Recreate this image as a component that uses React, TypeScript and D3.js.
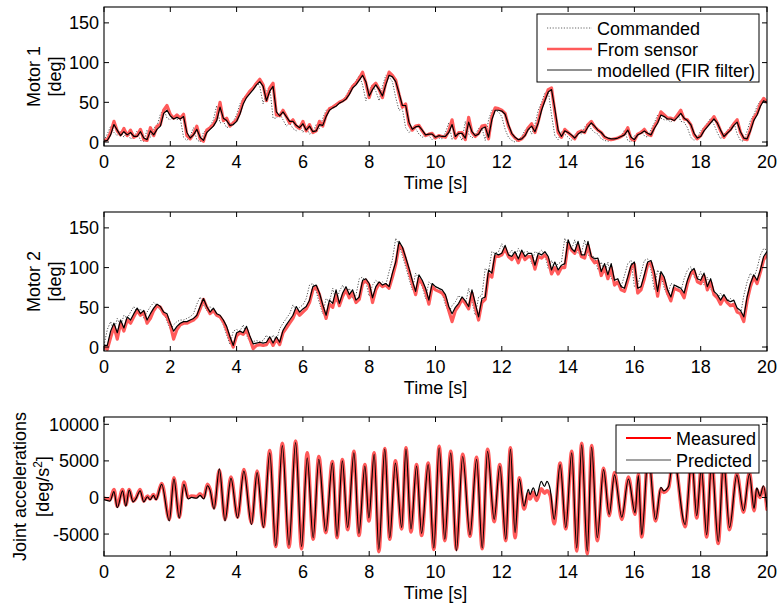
import React from "react";
import * as d3 from "d3";

// ---------- data ----------
const timeGrid: number[] = d3.range(0, 201).map((i) => i / 10);
const xTicks = [0, 2, 4, 6, 8, 10, 12, 14, 16, 18, 20];
const motorTicks = [0, 50, 100, 150];
const accTicks = [-5000, 0, 5000, 10000];

const motor1Commanded = [
  2, 10, 20, 12, 8, 14, 6, 13, 4, 6,
  14, 2, 1, 15, 6, 18, 20, 35, 42, 30,
  28, 32, 28, 30, 6, 2, 8, 18, 3, 0,
  12, 16, 20, 28, 46, 24, 26, 18, 20, 26,
  34, 48, 55, 60, 64, 70, 76, 70, 48, 64,
  70, 30, 30, 36, 28, 20, 24, 17, 14, 22,
  12, 19, 10, 12, 22, 17, 30, 40, 42, 45,
  48, 50, 53, 58, 66, 72, 77, 84, 72, 52,
  66, 72, 64, 52, 70, 84, 82, 76, 56, 40,
  42, 18, 12, 16, 17, 10, 6, 8, 8, 3,
  6, 5, 4, 12, 24, 3, 10, 10, 2, 26,
  10, 5, 9, 17, 18, 2, 28, 40, 40, 38,
  32, 16, 6, 2, 0, 2, 7, 15, 20, 10,
  22, 40, 50, 62, 65, 34, 8, 3, 13, 10,
  6, 2, 10, 12, 10, 19, 24, 16, 12, 10,
  4, 2, 1, 2, 3, 5, 8, 15, 2, 0,
  8, 10, 14, 8, 6, 16, 24, 34, 30, 28,
  28, 25, 31, 36, 26, 25, 18, 6, 2, 6,
  14, 19, 24, 30, 22, 12, 4, 10, 14, 20,
  25, 10, 2, 1, 14, 27, 34, 45, 52, 50,
  48,
];
const motor1Sensor = [
  2, 3, 12, 26, 14, 9, 17, 8, 15, 6,
  8, 16, 3, 2, 18, 8, 20, 22, 40, 46,
  35, 30, 34, 30, 35, 8, 4, 10, 20, 4,
  1, 15, 18, 22, 30, 50, 27, 30, 20, 24,
  28, 38, 52, 58, 64, 68, 74, 79, 72, 52,
  68, 74, 34, 33, 40, 32, 24, 28, 20, 17,
  26, 14, 22, 12, 14, 26, 20, 34, 42, 44,
  47, 50, 52, 55, 62, 70, 74, 80, 88, 74,
  56, 70, 74, 66, 56, 75, 88, 84, 78, 60,
  44, 48, 22, 15, 20, 21, 14, 8, 10, 11,
  5, 8, 7, 6, 14, 28, 5, 12, 12, 3,
  31, 12, 7, 11, 20, 21, 4, 32, 43, 42,
  40, 36, 20, 10, 5, 2, 4, 9, 18, 23,
  12, 26, 44, 54, 66, 68, 38, 12, 6, 16,
  12, 8, 4, 12, 14, 12, 22, 26, 19, 15,
  12, 6, 4, 3, 4, 5, 7, 10, 18, 4,
  2, 10, 12, 16, 10, 8, 19, 26, 38, 34,
  30, 30, 28, 34, 40, 29, 28, 22, 9, 4,
  8, 16, 21, 26, 32, 24, 14, 6, 12, 16,
  23, 28, 12, 4, 3, 16, 30, 36, 48, 55,
  50,
];
const motor1Model = [
  1, 2, 9, 22, 15, 8, 13, 9, 12, 7,
  7, 13, 5, 3, 14, 9, 16, 20, 36, 40,
  33, 29, 31, 29, 32, 12, 5, 9, 16, 6,
  2, 12, 16, 20, 27, 44, 30, 27, 21, 22,
  26, 35, 48, 56, 61, 66, 72, 76, 70, 52,
  64, 70, 38, 33, 38, 32, 26, 26, 21, 18,
  23, 15, 20, 13, 14, 22, 21, 32, 40, 43,
  45, 49, 51, 54, 60, 68, 72, 78, 84, 76,
  58, 66, 72, 66, 58, 72, 84, 82, 76, 62,
  46, 46, 25, 16, 19, 20, 15, 9, 10, 10,
  6, 8, 7, 7, 12, 22, 7, 11, 11, 5,
  25, 13, 8, 10, 17, 19, 6, 28, 40, 40,
  39, 35, 22, 11, 6, 3, 4, 8, 16, 20,
  13, 24, 40, 52, 63, 66, 42, 15, 7, 14,
  12, 9, 5, 10, 13, 12, 19, 24, 20, 15,
  12, 7, 5, 4, 4, 5, 7, 9, 15, 6,
  3, 9, 11, 14, 11, 9, 17, 24, 34, 32,
  29, 29, 27, 31, 36, 30, 27, 22, 11, 5,
  7, 14, 19, 24, 29, 24, 15, 7, 11, 15,
  21, 25, 13, 5, 4, 14, 27, 34, 45, 52,
  50,
];

const motor2Commanded = [
  2, 22, 32, 20, 36, 26, 40, 36, 44, 51,
  44, 48, 36, 44, 51, 56, 52, 46, 44, 32,
  22, 28, 32, 34, 34, 36, 38, 42, 54, 63,
  53, 46, 51, 44, 42, 36, 28, 15, 3, 20,
  22, 20, 28, 15, 6, 7, 8, 7, 8, 15,
  7, 15, 8, 23, 30, 36, 42, 53, 46, 50,
  53, 61, 78, 80, 70, 55, 42, 61, 57, 74,
  57, 70, 78, 68, 74, 61, 65, 86, 88, 82,
  64, 78, 84, 80, 82, 78, 95, 110, 137, 128,
  115, 101, 86, 72, 93, 86, 76, 61, 82, 78,
  76, 74, 68, 53, 44, 52, 57, 65, 60, 53,
  74, 57, 40, 63, 65, 99, 95, 120, 118, 120,
  130, 118, 116, 122, 113, 124, 116, 120, 120, 105,
  120, 118, 122, 116, 99, 109, 99, 105, 107, 137,
  126, 122, 135, 118, 118, 135, 116, 113, 114, 97,
  107, 93, 107, 86, 88, 78, 76, 90, 105, 109,
  76, 78, 93, 109, 111, 97, 72, 97, 90, 74,
  65, 80, 78, 76, 70, 86, 97, 101, 88, 86,
  95, 78, 88, 72, 68, 61, 68, 61, 59, 61,
  51, 48, 40, 65, 82, 93, 86, 99, 116, 124,
  122,
];
const motor2Sensor = [
  0, -3, 12, 26, 10, 30, 20, 34, 30, 38,
  46, 40, 44, 30, 36, 46, 52, 50, 42, 38,
  28, 10, 22, 28, 30, 30, 32, 34, 38, 48,
  60, 50, 42, 46, 40, 38, 32, 22, 10, 0,
  14, 18, 16, 22, 10, -2, 2, 3, 2, 3,
  10, 2, 10, 3, 18, 24, 30, 36, 46, 40,
  44, 48, 56, 72, 76, 66, 50, 36, 54, 50,
  66, 52, 64, 72, 62, 68, 56, 60, 80, 84,
  78, 56, 72, 80, 76, 78, 74, 88, 104, 128,
  124, 110, 96, 80, 66, 86, 80, 70, 54, 76,
  72, 70, 68, 62, 46, 32, 46, 52, 60, 55,
  48, 68, 50, 34, 56, 60, 92, 88, 114, 114,
  116, 124, 114, 110, 116, 106, 118, 110, 114, 114,
  98, 114, 112, 116, 110, 92, 100, 92, 100, 100,
  130, 122, 118, 128, 114, 112, 128, 112, 106, 108,
  90, 100, 86, 100, 78, 82, 72, 70, 84, 100,
  104, 68, 72, 86, 104, 106, 90, 64, 90, 84,
  68, 58, 74, 72, 70, 62, 80, 92, 96, 82,
  80, 90, 72, 82, 66, 62, 54, 62, 56, 52,
  54, 44, 42, 32, 58, 76, 88, 80, 94, 110,
  116,
];
const motor2Model = [
  2, 2, 20, 30, 18, 34, 24, 38, 34, 42,
  49, 42, 46, 34, 42, 49, 54, 51, 44, 42,
  30, 20, 26, 30, 32, 32, 34, 36, 40, 51,
  61, 51, 44, 49, 42, 40, 34, 26, 13, 2,
  18, 20, 18, 26, 14, 4, 5, 6, 5, 6,
  13, 5, 13, 6, 21, 28, 34, 40, 51, 44,
  48, 51, 59, 76, 78, 68, 53, 40, 59, 55,
  72, 55, 68, 76, 66, 72, 59, 63, 84, 86,
  80, 62, 76, 82, 78, 80, 76, 93, 107, 133,
  126, 113, 99, 84, 70, 91, 84, 74, 59, 80,
  76, 74, 72, 66, 51, 42, 50, 55, 63, 58,
  51, 72, 55, 38, 61, 63, 97, 93, 118, 116,
  118, 128, 116, 114, 120, 111, 122, 114, 118, 118,
  103, 118, 116, 120, 114, 97, 107, 97, 103, 105,
  135, 124, 120, 133, 116, 116, 133, 114, 111, 112,
  95, 105, 91, 105, 84, 86, 76, 74, 88, 103,
  107, 74, 76, 91, 107, 109, 95, 70, 95, 88,
  72, 63, 78, 76, 74, 68, 84, 95, 99, 86,
  84, 93, 76, 86, 70, 66, 59, 66, 59, 57,
  59, 49, 46, 38, 63, 80, 91, 84, 97, 114,
  120,
];

// Joint accelerations: turning points (time, predicted, measured)
const accTime = [
  0.0, 0.18, 0.3, 0.4, 0.56, 0.66, 0.76, 0.88, 0.96, 1.09, 1.2, 1.31, 1.39, 1.49, 1.57,
  1.74, 1.97, 2.11, 2.27, 2.41, 2.54, 2.64, 2.79, 2.9, 3.01, 3.12, 3.2, 3.32, 3.48, 3.65,
  3.83, 4.03, 4.22, 4.45, 4.62, 4.81, 5.0, 5.18, 5.38, 5.58, 5.78, 5.96, 6.13, 6.31, 6.48,
  6.69, 6.89, 7.03, 7.19, 7.35, 7.54, 7.69, 7.87, 7.99, 8.15, 8.29, 8.47, 8.62, 8.79, 8.98,
  9.11, 9.26, 9.43, 9.58, 9.78, 9.95, 10.11, 10.28, 10.46, 10.63, 10.82, 11.04, 11.24, 11.41, 11.57,
  11.77, 11.94, 12.12, 12.26, 12.4, 12.53, 12.67, 12.8, 12.85, 12.95, 13.05, 13.19, 13.29, 13.36, 13.46,
  13.58, 13.76, 13.93, 14.11, 14.26, 14.41, 14.58, 14.71, 14.88, 15.07, 15.24, 15.4, 15.62, 15.82, 16.02,
  16.12, 16.22, 16.42, 16.64, 16.8, 16.88, 17.03, 17.18, 17.53, 17.73, 17.88, 18.02, 18.18, 18.33, 18.53,
  18.69, 18.87, 19.09, 19.29, 19.47, 19.61, 19.69, 19.79, 19.89, 20.0,
];
const accPredicted = [
  -300, -500, 800, -1400, 900, -1200, 1000, -600, -200, 900, -600, 100, -300, 300, -300,
  1800, -3200, 2500, -2800, 1800, -200, 0, -100, 300, -200, 1600, 1000, -1600, 3900, -3200,
  2600, -2800, 3600, -3700, 3400, -4100, 6100, -6600, 7100, -6500, 7500, -6700, 5400, -5500, 5200,
  -4600, 4700, -5300, 5000, -4100, 6100, -4900, 4300, -2800, 5900, -7100, 6600, -5500, 4700, -4100,
  6600, -4300, 4300, -4900, 4500, -6900, 6800, -5700, 6100, -7300, 5600, -5100, 5200, -6900, 6300,
  -3000, 4300, -5700, 6600, -4800, 2500, -1200, 1100, 400, 1300, 200, 2200, 1500, 2200, 1100,
  -3000, 4500, -4100, 6100, -6900, 7200, -7300, 6900, -5500, 3800, -2300, 3100, -2700, 2500, -2100,
  3000, -5100, 5800, -3000, 1400, 900, 1500, 5500, -3700, 5200, -2500, 4000, -5100, 5000, -6000,
  5000, -4100, 3100, -1800, 3200, -1500, 1300, 200, 1600, -1300,
];
const accMeasured = [
  -100, -300, 1100, -1200, 1100, -1000, 1100, -500, -100, 1100, -500, 200, -200, 400, -200,
  1900, -3000, 2700, -2700, 2100, 0, 200, 100, 500, 0, 1800, 1100, -1400, 3700, -3000,
  2800, -2700, 3800, -3500, 3600, -4000, 6400, -6700, 7400, -6800, 7700, -7000, 6100, -5700, 5600,
  -4800, 4900, -5500, 5200, -4400, 6300, -5200, 4500, -3200, 6100, -7400, 6700, -5700, 5000, -4300,
  6800, -4700, 4500, -5200, 4700, -7100, 7000, -5900, 6300, -7100, 5900, -5300, 5500, -7000, 6600,
  -3300, 4500, -5900, 6800, -5500, 2700, -1600, 500, -200, 700, -400, 1200, 600, 900, 300,
  -3600, 4700, -4300, 6300, -7300, 7400, -7700, 7100, -5900, 4000, -2500, 3400, -3000, 2800, -2300,
  3200, -5400, 6000, -3200, 1200, 700, 1300, 5700, -4000, 5400, -2800, 4200, -5400, 5200, -6300,
  5200, -4400, 3300, -2000, 3400, -1800, 1100, 0, 1400, -1600,
];

// ---------- layout ----------
const W = 777;
const H = 606;
const LEFT = 104;
const RIGHT = 767;
const FONT = "'Liberation Sans', Arial, Helvetica, sans-serif";
const FS = 18;

const xScaleFor = () => d3.scaleLinear().domain([0, 20]).range([LEFT, RIGHT]);

type Series = { values: number[]; times: number[]; stroke: string; width: number; dash?: string; curve?: any; opacity?: number };

function Panel(props: {
  id: string;
  top: number;
  bottom: number;
  yDomain: [number, number];
  yTicks: number[];
  series: Series[];
  labels: string[];
  labelX: number[];
  legend: { x: number; y: number; w: number; h: number; rowY: number[]; items: { text: string; stroke: string; width: number; dash?: string }[] };
  sup?: boolean;
}) {
  const { id, top, bottom, yDomain, yTicks, series, legend } = props;
  const x = xScaleFor();
  const y = d3.scaleLinear().domain(yDomain).range([bottom, top]);
  const tl = 5;
  const cy = (top + bottom) / 2;
  return (
    <g>
      <defs>
        <clipPath id={id}>
          <rect x={LEFT} y={top} width={RIGHT - LEFT} height={bottom - top} />
        </clipPath>
      </defs>
      <g clipPath={`url(#${id})`}>
        {series.map((s, i) => {
          const line = d3
            .line<number>()
            .x((_, j) => x(s.times[j]))
            .y((v) => y(v))
            .curve(s.curve || d3.curveLinear);
          return (
            <path
              key={i}
              d={line(s.values) || ""}
              fill="none"
              stroke={s.stroke}
              strokeWidth={s.width}
              strokeDasharray={s.dash}
              strokeLinejoin="round"
              strokeLinecap={s.dash ? "butt" : "round"}
              opacity={s.opacity ?? 1}
            />
          );
        })}
      </g>
      {xTicks.map((t) => (
        <g key={"xt" + t}>
          <line x1={x(t)} x2={x(t)} y1={bottom} y2={bottom - tl} stroke="#000" strokeWidth={1} />
          <line x1={x(t)} x2={x(t)} y1={top} y2={top + tl} stroke="#000" strokeWidth={1} />
          <text x={x(t)} y={bottom + 22} textAnchor="middle" fontFamily={FONT} fontSize={FS}>
            {t}
          </text>
        </g>
      ))}
      {yTicks.map((t) => (
        <g key={"yt" + t}>
          <line x1={LEFT} x2={LEFT + tl} y1={y(t)} y2={y(t)} stroke="#000" strokeWidth={1} />
          <line x1={RIGHT} x2={RIGHT - tl} y1={y(t)} y2={y(t)} stroke="#000" strokeWidth={1} />
          <text x={LEFT - 5} y={y(t) + 6.5} textAnchor="end" fontFamily={FONT} fontSize={FS}>
            {t}
          </text>
        </g>
      ))}
      <rect x={LEFT} y={top} width={RIGHT - LEFT} height={bottom - top} fill="none" stroke="#000" strokeWidth={1.1} />
      <text x={(LEFT + RIGHT) / 2} y={bottom + 43} textAnchor="middle" fontFamily={FONT} fontSize={FS}>
        Time [s]
      </text>
      {props.labels.map((lab, i) => (
        <text
          key={"yl" + i}
          transform={`translate(${props.labelX[i]},${cy}) rotate(-90)`}
          textAnchor="middle"
          fontFamily={FONT}
          fontSize={FS}
        >
          {props.sup && i === 1 ? (
            <>
              [deg/s<tspan baselineShift="super" fontSize={12}>2</tspan>]
            </>
          ) : (
            lab
          )}
        </text>
      ))}
      {legend.items.length > 0 && (
        <rect x={legend.x} y={legend.y} width={legend.w} height={legend.h} fill="#fff" stroke="#000" strokeWidth={1} />
      )}
      {legend.items.map((it, i) => (
        <g key={"lg" + i}>
          <line
            x1={legend.x + 10}
            x2={legend.x + 55}
            y1={legend.rowY[i]}
            y2={legend.rowY[i]}
            stroke={it.stroke}
            strokeWidth={it.width}
            strokeDasharray={it.dash}
          />
          <text x={legend.x + 60} y={legend.rowY[i] + 6.5} fontFamily={FONT} fontSize={FS}>
            {it.text}
          </text>
        </g>
      ))}
    </g>
  );
}

export default function App() {
  const RED = "#ff5a5a";
  return (
    <svg
      width={W}
      height={H}
      viewBox={`0 0 ${W} ${H}`}
      style={{ position: "absolute", left: 0, top: 0, background: "#fff" }}
    >
      <rect x={0} y={0} width={W} height={H} fill="#fff" />
      <Panel
        id="c1"
        top={7}
        bottom={146}
        yDomain={[-5, 170]}
        yTicks={motorTicks}
        labels={["Motor 1", "[deg]"]}
        labelX={[40, 61]}
        series={[
          { values: motor1Commanded, times: timeGrid, stroke: "#555", width: 1, dash: "1.2,1.6" },
          { values: motor1Sensor, times: timeGrid, stroke: RED, width: 3.2 },
          { values: motor1Model, times: timeGrid, stroke: "#000", width: 1.2 },
        ]}
        legend={{
          x: 537,
          y: 14,
          w: 222,
          h: 68,
          rowY: [28, 49, 70],
          items: [
            { text: "Commanded", stroke: "#666", width: 1, dash: "1.2,1.6" },
            { text: "From sensor", stroke: RED, width: 2.5 },
            { text: "modelled (FIR filter)", stroke: "#222", width: 1 },
          ],
        }}
      />
      <Panel
        id="c2"
        top={212}
        bottom={351}
        yDomain={[-5, 170]}
        yTicks={motorTicks}
        labels={["Motor 2", "[deg]"]}
        labelX={[40, 61]}
        series={[
          { values: motor2Commanded, times: timeGrid, stroke: "#555", width: 1, dash: "1.2,1.6" },
          { values: motor2Sensor, times: timeGrid, stroke: RED, width: 3.2 },
          { values: motor2Model, times: timeGrid, stroke: "#000", width: 1.2 },
        ]}
        legend={{ x: 0, y: 0, w: 0, h: 0, rowY: [], items: [] }}
      />
      <Panel
        id="c3"
        top={417}
        bottom={556}
        yDomain={[-8000, 11000]}
        yTicks={accTicks}
        labels={["Joint accelerations", "[deg/s2]"]}
        labelX={[26, 49]}
        sup
        series={[
          { values: accMeasured, times: accTime, stroke: RED, width: 3.6, curve: d3.curveMonotoneX },
          { values: accPredicted, times: accTime, stroke: "#000", width: 1.2, curve: d3.curveMonotoneX },
        ]}
        legend={{
          x: 616,
          y: 425,
          w: 143,
          h: 48,
          rowY: [438, 460],
          items: [
            { text: "Measured", stroke: "#ff0000", width: 2 },
            { text: "Predicted", stroke: "#444", width: 1 },
          ],
        }}
      />
    </svg>
  );
}
